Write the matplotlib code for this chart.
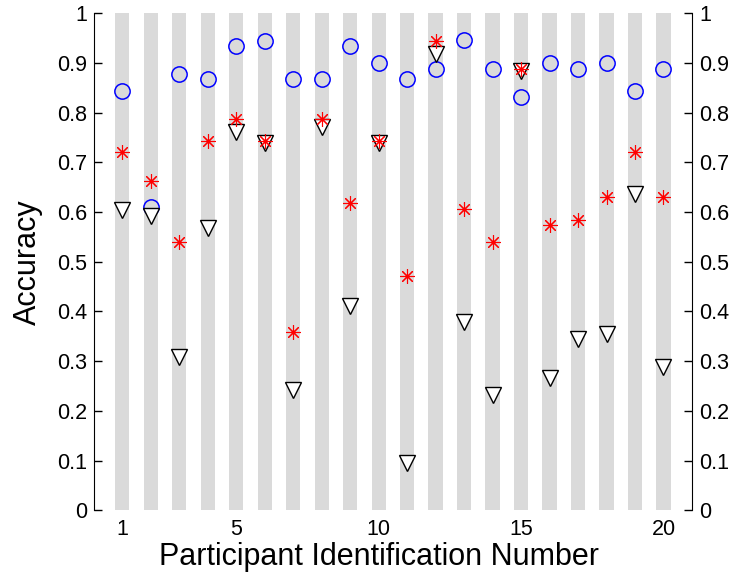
"""Per-participant accuracy for three conditions, grey bands behind each participant.
"""
import matplotlib
matplotlib.use('Agg')
import matplotlib.pyplot as plt

plt.rcParams['font.family'] = ['Liberation Sans', 'DejaVu Sans']

# Data
participants = list(range(1, 21))
acc_circle = [0.844, 0.610, 0.878, 0.867, 0.934, 0.944, 0.867, 0.867, 0.934, 0.900,
              0.867, 0.888, 0.945, 0.888, 0.832, 0.900, 0.888, 0.900, 0.844, 0.888]
acc_star = [0.720, 0.663, 0.539, 0.742, 0.788, 0.742, 0.359, 0.788, 0.619, 0.742,
            0.472, 0.944, 0.607, 0.539, 0.888, 0.573, 0.584, 0.630, 0.720, 0.630]
acc_tri = [0.603, 0.592, 0.309, 0.568, 0.760, 0.738, 0.241, 0.771, 0.411, 0.738,
           0.096, 0.918, 0.378, 0.231, 0.884, 0.266, 0.344, 0.354, 0.636, 0.288]
xtick_vals = [1, 5, 10, 15, 20]
ytick_vals = [0, 0.1, 0.2, 0.3, 0.4, 0.5, 0.6, 0.7, 0.8, 0.9, 1]
ytick_labels = ['0', '0.1', '0.2', '0.3', '0.4', '0.5', '0.6', '0.7', '0.8', '0.9', '1']

fig = plt.figure(figsize=(7.33, 5.72), dpi=100)
ax = fig.add_axes([0.128, 0.108, 0.816, 0.869])

# grey background band per participant
ax.bar(participants, [1] * len(participants), width=0.5, color='#dadada',
       linewidth=0, zorder=1)

ax.plot(participants, acc_circle, linestyle='none', marker='o', markersize=11,
        markerfacecolor='none', markeredgecolor='#0000ff', markeredgewidth=1.1, zorder=3)
ax.plot(participants, acc_tri, linestyle='none', marker='v', markersize=11.5,
        markerfacecolor='white', markeredgecolor='black', markeredgewidth=1.0, zorder=4)
ax.plot(participants, acc_star, linestyle='none', marker=(8, 2, 0), markersize=10.5,
        markeredgecolor='#ff0000', markerfacecolor='none', markeredgewidth=0.8, zorder=5)

ax.set_xlim(0, 21)
ax.set_ylim(0, 1)
ax.set_xticks(xtick_vals)
ax.set_yticks(ytick_vals)
ax.set_yticklabels(ytick_labels)

ax.spines['top'].set_visible(False)
ax.spines['bottom'].set_visible(False)
ax.tick_params(axis='y', direction='in', length=6, width=1, labelsize=15.5,
               left=True, right=True, labelleft=True, labelright=True, pad=5)
ax.tick_params(axis='x', length=0, labelsize=15.5, pad=6)

ax.set_xlabel('Participant Identification Number', fontsize=22)
ax.xaxis.set_label_coords(0.476, -0.111, transform=ax.transAxes)
ax.xaxis.label.set_verticalalignment('baseline')
ax.set_ylabel('Accuracy', fontsize=22, labelpad=10)

plt.savefig('out.png')
